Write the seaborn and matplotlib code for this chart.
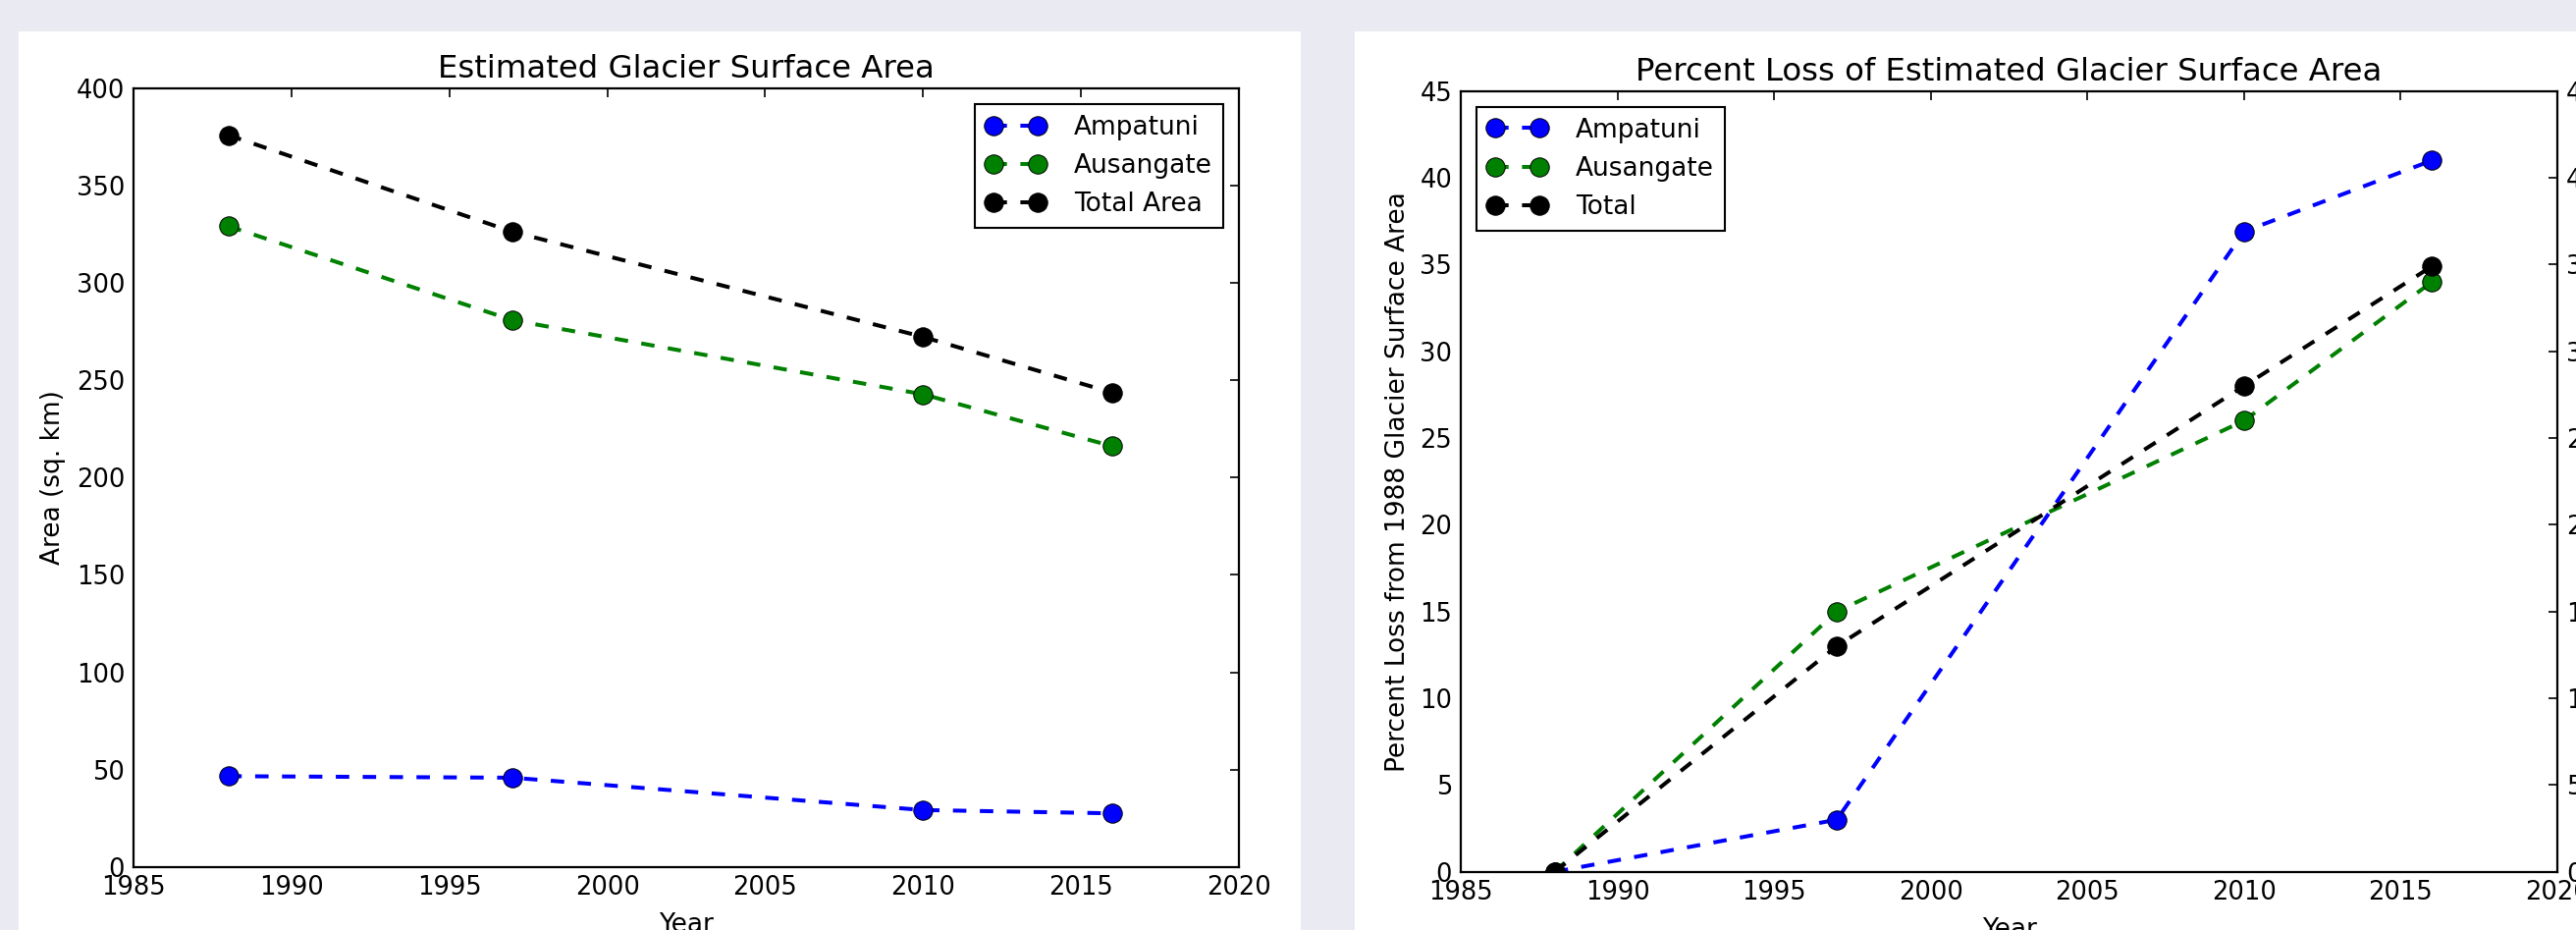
import numpy as np
import pandas as pd
import matplotlib
matplotlib.use("Agg")
import matplotlib.pyplot as plt
from matplotlib.patches import Rectangle
import seaborn as sns

# ---------------------------------------------------------------------
# data
# ---------------------------------------------------------------------
years = [1988, 1997, 2010, 2016]

area_ampatuni = [46.6, 45.8, 29.2, 27.5]
area_ausangate = [329.2, 280.9, 242.8, 216.1]
area_total = [376.0, 326.3, 272.3, 243.6]

loss_ampatuni = [0.0, 3.0, 36.9, 41.0]
loss_ausangate = [0.0, 15.0, 26.0, 34.0]
loss_total = [0.0, 13.0, 28.0, 34.9]

area_labels = ["Ampatuni", "Ausangate", "Total Area"]
loss_labels = ["Ampatuni", "Ausangate", "Total"]
colors = ["#0000ff", "#008000", "#000000"]

x_ticks = list(range(1985, 2021, 5))
area_ticks = list(range(0, 401, 50))
loss_ticks = list(range(0, 46, 5))

# ---------------------------------------------------------------------
# style
# ---------------------------------------------------------------------
sns.set_style("white")
plt.rcParams["font.family"] = ["DejaVu Sans"]
plt.rcParams.update({
    "axes.edgecolor": "black",
    "axes.linewidth": 1.6,
    "axes.labelcolor": "black",
    "text.color": "black",
    "xtick.color": "black",
    "ytick.color": "black",
    "xtick.direction": "in",
    "ytick.direction": "in",
    "xtick.top": True,
    "ytick.right": True,
    "xtick.major.size": 6.7,
    "ytick.major.size": 6.7,
    "xtick.major.width": 1.2,
    "ytick.major.width": 1.2,
    "xtick.major.pad": 6.3,
    "ytick.major.pad": 6.3,
    "xtick.labelsize": 18.5,
    "ytick.labelsize": 18.5,
    "axes.labelsize": 19,
    "axes.titlesize": 23.3,
    "legend.numpoints": 2,
})

W, H = 2624, 947
fig = plt.figure(figsize=(W / 100, H / 100), dpi=100, facecolor="#eaeaf2")

# white cards behind each chart
fig.add_artist(Rectangle((19 / W, 0), (1325 - 19) / W, (H - 32) / H,
                         transform=fig.transFigure, facecolor="white",
                         edgecolor="none", zorder=-10))
fig.add_artist(Rectangle((1380 / W, 0), (W - 1380) / W, (H - 32) / H,
                         transform=fig.transFigure, facecolor="white",
                         edgecolor="none", zorder=-10))

ax1 = fig.add_axes([136 / W, (H - 882.7) / H, (1262 - 136) / W, (882.7 - 90) / H])
ax2 = fig.add_axes([1488 / W, (H - 887.7) / H, (2605 - 1488) / W, (887.7 - 92.7) / H])


def draw_series(ax, series, labels):
    for vals, lab, col in zip(series, labels, colors):
        sns.lineplot(x=years, y=vals, ax=ax, color=col, marker="o",
                     markersize=14, markeredgecolor="black",
                     markeredgewidth=0.7, linewidth=2.9,
                     linestyle=(0, (3.4, 3.4)), label=lab, legend=False)


def add_legend(ax, loc):
    leg = ax.legend(loc=loc, fontsize=19, frameon=True, fancybox=False,
                    edgecolor="black", framealpha=1, borderpad=0.42,
                    labelspacing=0.5, handlelength=2.3, handletextpad=1.1,
                    borderaxespad=0.6)
    leg.get_frame().set_linewidth(1.5)


# ---------------------------------------------------------------------
# left: surface area
# ---------------------------------------------------------------------
draw_series(ax1, [area_ampatuni, area_ausangate, area_total], area_labels)
ax1.set_xlim(1985, 2020)
ax1.set_ylim(0, 400)
ax1.set_xticks(x_ticks)
ax1.set_yticks(area_ticks)
ax1.set_title("Estimated Glacier Surface Area", pad=8)
ax1.set_xlabel("Year", labelpad=8)
ax1.set_ylabel("Area (sq. km)", labelpad=7.6)
add_legend(ax1, "upper right")

# ---------------------------------------------------------------------
# right: percent loss
# ---------------------------------------------------------------------
draw_series(ax2, [loss_ampatuni, loss_ausangate, loss_total], loss_labels)
ax2.set_xlim(1985, 2020)
ax2.set_ylim(0, 45)
ax2.set_xticks(x_ticks)
ax2.set_yticks(loss_ticks)
ax2.tick_params(axis="y", labelright=True)
ax2.set_title("Percent Loss of Estimated Glacier Surface Area", pad=8)
ax2.set_xlabel("Year", labelpad=8)
ax2.set_ylabel("Percent Loss from 1988 Glacier Surface Area", labelpad=6.4)
add_legend(ax2, "upper left")

for ax in (ax1, ax2):
    ax.set_facecolor("white")
    for sp in ax.spines.values():
        sp.set_visible(True)
        sp.set_color("black")

fig.savefig("out.png", dpi=100, facecolor=fig.get_facecolor())
